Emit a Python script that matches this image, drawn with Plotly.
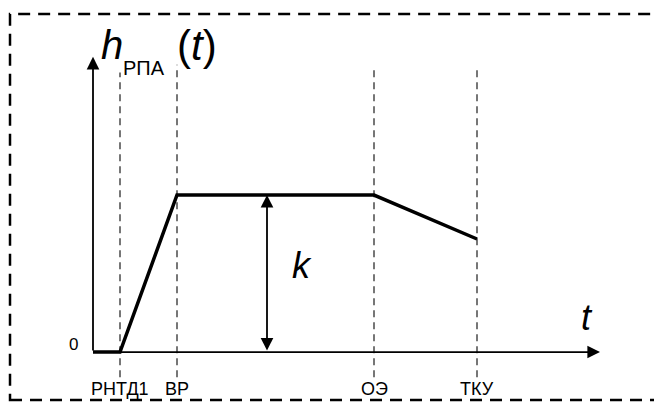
import plotly.graph_objects as go

# event moments on the time axis (1 unit = 100 px of the original sketch)
event_labels = ["РНТД1", "ВР", "ОЭ", "ТКУ"]
event_t = [0.27, 0.84, 2.81, 3.84]
event_line_top = [1.78, 1.83, 1.80, 1.80]

# response h_RPA(t): piecewise linear curve
curve_t = [0.0, 0.27, 0.84, 2.81, 3.84]
curve_h = [0.0, 0.0, 1.0, 1.0, 0.72]

k_t = 1.74  # where the k gain arrow is drawn
k_value = 1.0

axis_t_end = 5.07
axis_h_end = 1.88

# no serif face in the sandbox, so a plain sans is used
FONT = "Liberation Sans"

fig = go.Figure()

# dashed event lines
for t, top in zip(event_t, event_line_top):
  fig.add_trace(go.Scatter(
    x=[t, t], y=[-0.16, top], mode="lines",
    line=dict(color="#4a4a4a", width=1.5, dash="7px,5px"),
    hoverinfo="skip", showlegend=False,
  ))

# main curve
fig.add_trace(go.Scatter(
  x=curve_t, y=curve_h, mode="lines",
  line=dict(color="black", width=3.5),
  hoverinfo="skip", showlegend=False,
))

arrow_common = dict(
  xref="x", yref="y", axref="x", ayref="y", text="",
  showarrow=True, arrowhead=2, arrowsize=1.4, arrowwidth=1.8, arrowcolor="black",
)
# axes arrows
fig.add_annotation(x=axis_t_end, y=0, ax=0, ay=0, **arrow_common)
fig.add_annotation(x=0, y=axis_h_end, ax=0, ay=0, **arrow_common)
# k double arrow
fig.add_annotation(x=k_t, y=k_value, ax=k_t, ay=0, arrowside="end+start", **arrow_common)


def label(x, y, text, size, anchor="center"):
  fig.add_annotation(x=x, y=y, text=text, showarrow=False,
                     xanchor=anchor, yanchor="middle",
                     font=dict(family=FONT, size=size, color="black"))


# y axis title h_RPA(t)
label(0.06, 1.955, "<i>h</i>", 40, "left")
label(0.28, 1.81, "РПА", 20, "left")
label(0.82, 1.955, "(<i>t</i>)", 42, "left")

label(2.09, 0.55, "<i>k</i>", 36)
label(4.94, 0.22, "<i>t</i>", 36)
label(-0.2, 0.045, "0", 17)
for lab, t in zip(event_labels, event_t):
  label(t, -0.236, lab, 18)

# outer dashed frame
fig.add_shape(type="rect", xref="paper", yref="paper",
              x0=0.0153, y0=0.0172, x1=1.02, y1=0.9656,
              line=dict(color="black", width=2.5, dash="12px,8px"))

fig.update_layout(
  width=654, height=407, autosize=False,
  margin=dict(l=0, r=0, t=0, b=0),
  paper_bgcolor="white", plot_bgcolor="white",
  xaxis=dict(range=[-0.93, 5.61], visible=False, fixedrange=True),
  yaxis=dict(range=[-0.350, 2.242], visible=False, fixedrange=True),
)

fig.write_html("out.html", config={"displayModeBar": False},
               post_script="document.body.style.margin='0';")
